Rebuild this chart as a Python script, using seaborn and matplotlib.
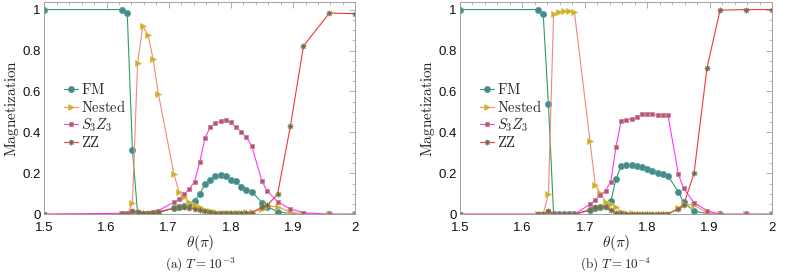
import matplotlib
matplotlib.use("Agg")
import matplotlib.pyplot as plt
import seaborn as sns
import pandas as pd
from matplotlib.ticker import MultipleLocator, FixedLocator, FixedFormatter

# ---------------- data ----------------
theta = [1.5, 1.625, 1.6333, 1.6417, 1.65, 1.6583, 1.6667, 1.675, 1.6833,
         1.7083, 1.7167, 1.725, 1.7333, 1.7417, 1.75, 1.7583, 1.7667, 1.775,
         1.7833, 1.7917, 1.8, 1.8083, 1.8167, 1.825, 1.8333, 1.85, 1.8583,
         1.875, 1.8958, 1.9167, 1.9583, 2.0]

fm_a = [1.0, 1.0, 0.984, 0.314, 0.005, 0.003, 0.003, 0.005, 0.008,
        0.03, 0.038, 0.042, 0.05, 0.065, 0.098, 0.149, 0.168, 0.185, 0.191,
        0.188, 0.168, 0.163, 0.132, 0.119, 0.111, 0.057, 0.037, 0.013, 0.003,
        0.0, 0.0, 0.0]
nested_a = [0, 0, 0, 0.054, 0.74, 0.918, 0.876, 0.757, 0.59,
            0.198, 0.11, 0.083, 0.06, 0.045, 0.035, 0.022, 0.015, 0.01, 0.007,
            0.006, 0.006, 0.007, 0.008, 0.01, 0.012, 0.025, 0.04, 0.037, 0.01,
            0.002, 0, 0]
s3z3_a = [0, 0.005, 0.005, 0.018, 0.013, 0.008, 0.008, 0.012, 0.018,
          0.059, 0.075, 0.098, 0.125, 0.16, 0.256, 0.371, 0.426, 0.444, 0.454,
          0.461, 0.451, 0.425, 0.402, 0.376, 0.335, 0.162, 0.114, 0.062, 0.026,
          0.008, 0, 0]
zz_a = [0, 0.0, 0.0, 0.015, 0.012, 0.008, 0.006, 0.008, 0.012,
        0.03, 0.035, 0.035, 0.032, 0.028, 0.02, 0.015, 0.012, 0.008, 0.006,
        0.005, 0.004, 0.004, 0.005, 0.006, 0.008, 0.034, 0.043, 0.098, 0.433,
        0.822, 0.983, 0.98]

fm_b = [1.0, 1.0, 0.98, 0.537, 0.0, 0.0, 0.0, 0.0, 0.0,
        0.022, 0.033, 0.038, 0.04, 0.065, 0.172, 0.238, 0.243, 0.241, 0.236,
        0.23, 0.222, 0.212, 0.204, 0.196, 0.187, 0.11, 0.058, 0.016, 0.003,
        0, 0, 0]
nested_b = [0, 0, 0, 0.099, 0.98, 0.99, 0.995, 0.995, 0.99,
            0.358, 0.143, 0.103, 0.062, 0.05, 0.035, 0.012, 0.006, 0.004, 0.003,
            0.003, 0.003, 0.003, 0.003, 0.003, 0.003, 0.03, 0.049, 0.045, 0.008,
            0, 0, 0]
s3z3_b = [0, 0, 0, 0.018, 0.0, 0.0, 0.0, 0.0, 0.0,
          0.049, 0.07, 0.094, 0.115, 0.16, 0.33, 0.456, 0.46, 0.467, 0.475,
          0.489, 0.489, 0.489, 0.484, 0.484, 0.484, 0.195, 0.127, 0.057, 0.018,
          0, 0, 0]
zz_b = [0, 0, 0, 0.015, 0.0, 0.0, 0.0, 0.0, 0.0,
        0.02, 0.035, 0.038, 0.035, 0.02, 0.008, 0.004, 0.003, 0.003, 0.003,
        0.003, 0.003, 0.003, 0.003, 0.003, 0.003, 0.025, 0.045, 0.2, 0.715,
        0.997, 1.0, 1.0]

series_names = [r"$\mathrm{FM}$", r"$\mathrm{Nested}$", r"$S_3Z_3$", r"$\mathrm{ZZ}$"]
xtick_vals = [1.5, 1.6, 1.7, 1.8, 1.9, 2.0]
xtick_labels = ["1.5", "1.6", "1.7", "1.8", "1.9", "2"]
ytick_vals = [0, 0.2, 0.4, 0.6, 0.8, 1.0]
ytick_labels = ["0", "0.2", "0.4", "0.6", "0.8", "1"]
captions = [r"$\mathrm{(a)}\ T = 10^{-3}$", r"$\mathrm{(b)}\ T = 10^{-4}$"]

# ---------------- style ----------------
sns.set_style("white")
plt.rcParams["font.family"] = ["Liberation Sans", "DejaVu Sans"]
plt.rcParams["mathtext.fontset"] = "cm"

styles = [
    dict(color="#2e9e5e", marker="o", mfc="#4f8686", mec="#46a8a8", ms=4.4, mew=0.6),
    dict(color="#f08a80", marker=">", mfc="#c6ab40", mec="#e2c53c", ms=4.2, mew=0.6),
    dict(color="#ff33ff", marker="s", mfc="#9c6272", mec="#e07a92", ms=3.5, mew=0.6),
    dict(color="#ee3a3a", marker=(8, 1, 0), mfc="#6a6a4a", mec="#857a52", ms=4.2, mew=0.5),
]

fig = plt.figure(figsize=(7.89, 2.74), dpi=100)
ax_a = fig.add_axes([44.3 / 789, 1 - 214.3 / 274, 311 / 789, 212.3 / 274])
ax_b = fig.add_axes([460 / 789, 1 - 214.3 / 274, 312 / 789, 212.3 / 274])

panels = [(ax_a, [fm_a, nested_a, s3z3_a, zz_a]), (ax_b, [fm_b, nested_b, s3z3_b, zz_b])]

for i, (ax, data) in enumerate(panels):
    for name, vals, st in zip(series_names, data, styles):
        df = pd.DataFrame({"theta": theta, "m": vals})
        sns.lineplot(data=df, x="theta", y="m", ax=ax, estimator=None, sort=False,
                     color=st["color"], linewidth=0.8, marker=st["marker"],
                     markerfacecolor=st["mfc"], markeredgecolor=st["mec"],
                     markersize=st["ms"], markeredgewidth=st["mew"], label=name)
    ax.set_xlim(1.5, 2.0)
    ax.set_ylim(0, 1.037)
    ax.xaxis.set_major_locator(FixedLocator(xtick_vals))
    ax.xaxis.set_major_formatter(FixedFormatter(xtick_labels))
    ax.yaxis.set_major_locator(FixedLocator(ytick_vals))
    ax.yaxis.set_major_formatter(FixedFormatter(ytick_labels))
    ax.xaxis.set_minor_locator(MultipleLocator(0.02))
    ax.yaxis.set_minor_locator(MultipleLocator(0.05))
    ax.tick_params(which="both", direction="in", top=True, right=True,
                   color="#a0a0a0", labelcolor="#111111", labelsize=9.5)
    ax.tick_params(axis="x", pad=5.5)
    ax.tick_params(axis="y", pad=2.5)
    ax.tick_params(which="major", length=4, width=0.6)
    ax.tick_params(which="minor", length=2, width=0.5)
    for sp in ax.spines.values():
        sp.set_color("#a0a0a0")
        sp.set_linewidth(0.7)
    ax.set_xlabel(r"$\theta(\pi)$", fontsize=11, labelpad=-1)
    ax.set_ylabel(r"$\mathrm{Magnetization}$", fontsize=11, labelpad=1)
    leg = ax.legend(loc="upper left", bbox_to_anchor=(0.03, 0.67), frameon=False,
                    handlelength=1.0, handletextpad=0.2, labelspacing=0.1,
                    fontsize=10.5, borderaxespad=0.3)
    cx = (ax.get_position().x0 + ax.get_position().x1) / 2
    fig.text(cx, 1 - 265 / 274, captions[i], ha="center", va="center", fontsize=9.5)

fig.savefig("out.png", dpi=100)
